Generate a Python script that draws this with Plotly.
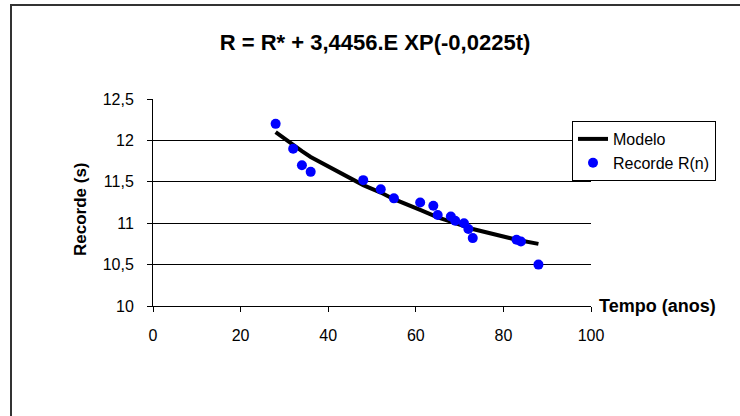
import plotly.graph_objects as go

# Record times (s) by year t
anos = [28, 32, 34, 36, 48, 52, 55, 61, 64, 65, 68, 69, 71, 72, 73, 83, 84, 88]
recorde = [12.2, 11.9, 11.7, 11.62, 11.52, 11.41, 11.3, 11.25, 11.21, 11.1,
           11.08, 11.03, 11.0, 10.93, 10.82, 10.8, 10.78, 10.5]

# Fitted model values at the same years
modelo = [12.1, 11.94, 11.87, 11.8, 11.46, 11.37, 11.29, 11.16, 11.09, 11.07,
          11.02, 11.0, 10.97, 10.95, 10.93, 10.8, 10.79, 10.75]

titulo = "R = R* + 3,4456.E XP(-0,0225t)"
y_ticks = [10, 10.5, 11, 11.5, 12, 12.5]
y_grid = [10.5, 11, 11.5, 12]
x_ticks = [0, 20, 40, 60, 80, 100]

fig = go.Figure()
fig.add_trace(go.Scatter(
    x=anos, y=modelo, mode="lines", name="Modelo",
    line=dict(color="black", width=4),
))
fig.add_trace(go.Scatter(
    x=anos, y=recorde, mode="markers", name="Recorde R(n)",
    marker=dict(color="#0000FF", size=10, symbol="circle"),
))

W, H = 740, 416
L, R, T, B = 153, W - 591, 99, H - 306
pw, ph = W - L - R, H - T - B

def px_x(px):
    return (px - L) / pw

def px_y(py):
    return (H - B - py) / ph

base = "Arial, Liberation Sans, sans-serif"
font_axis = dict(family=base, size=16, color="black")

fig.update_layout(
    width=W, height=H,
    margin=dict(l=L, r=R, t=T, b=B),
    paper_bgcolor="white", plot_bgcolor="white",
    separators=", ",
    showlegend=True,
    legend=dict(
        x=px_x(572), y=px_y(121), xanchor="left", yanchor="top",
        bordercolor="black", borderwidth=1, bgcolor="white",
        font=font_axis, itemwidth=30, tracegroupgap=2,
    ),
    title=dict(
        text=titulo, x=375 / W, y=1 - 42 / H, xanchor="center", yanchor="middle",
        font=dict(family="Liberation Sans Narrow, Arial Narrow, " + base,
                  size=22, color="black", weight="bold"),
    ),
    xaxis=dict(
        range=[0, 100], tickvals=x_ticks, showgrid=False, zeroline=False,
        showline=True, linecolor="black", linewidth=1,
        ticks="outside", ticklen=5, tickcolor="black", tickfont=font_axis,
        ticklabelstandoff=10,
    ),
    yaxis=dict(
        range=[10, 12.5], tickvals=y_ticks, showgrid=False, zeroline=False,
        showline=True, linecolor="black", linewidth=1,
        ticks="outside", ticklen=5, tickcolor="black", tickfont=font_axis,
        ticklabelstandoff=10,
        minor=dict(tickvals=y_grid, showgrid=True, gridcolor="black",
                   gridwidth=1, ticks=""),
    ),
    annotations=[
        dict(text="<b>Tempo (anos)</b>", xref="paper", yref="paper",
             x=px_x(597), y=px_y(306), xanchor="left", yanchor="middle",
             showarrow=False, font=dict(family=base, size=18, color="black")),
        dict(text="<b>Recorde (s)</b>", xref="paper", yref="paper",
             x=px_x(80), y=px_y(209), xanchor="center", yanchor="middle",
             textangle=-90, showarrow=False,
             font=dict(family=base, size=17, color="black")),
    ],
    shapes=[
        dict(type="rect", xref="paper", yref="paper",
             x0=px_x(11), x1=px_x(760), y0=px_y(430), y1=px_y(5),
             line=dict(color="#333333", width=2), fillcolor="rgba(0,0,0,0)",
             layer="below"),
    ],
)

fig.write_html("out.html")
